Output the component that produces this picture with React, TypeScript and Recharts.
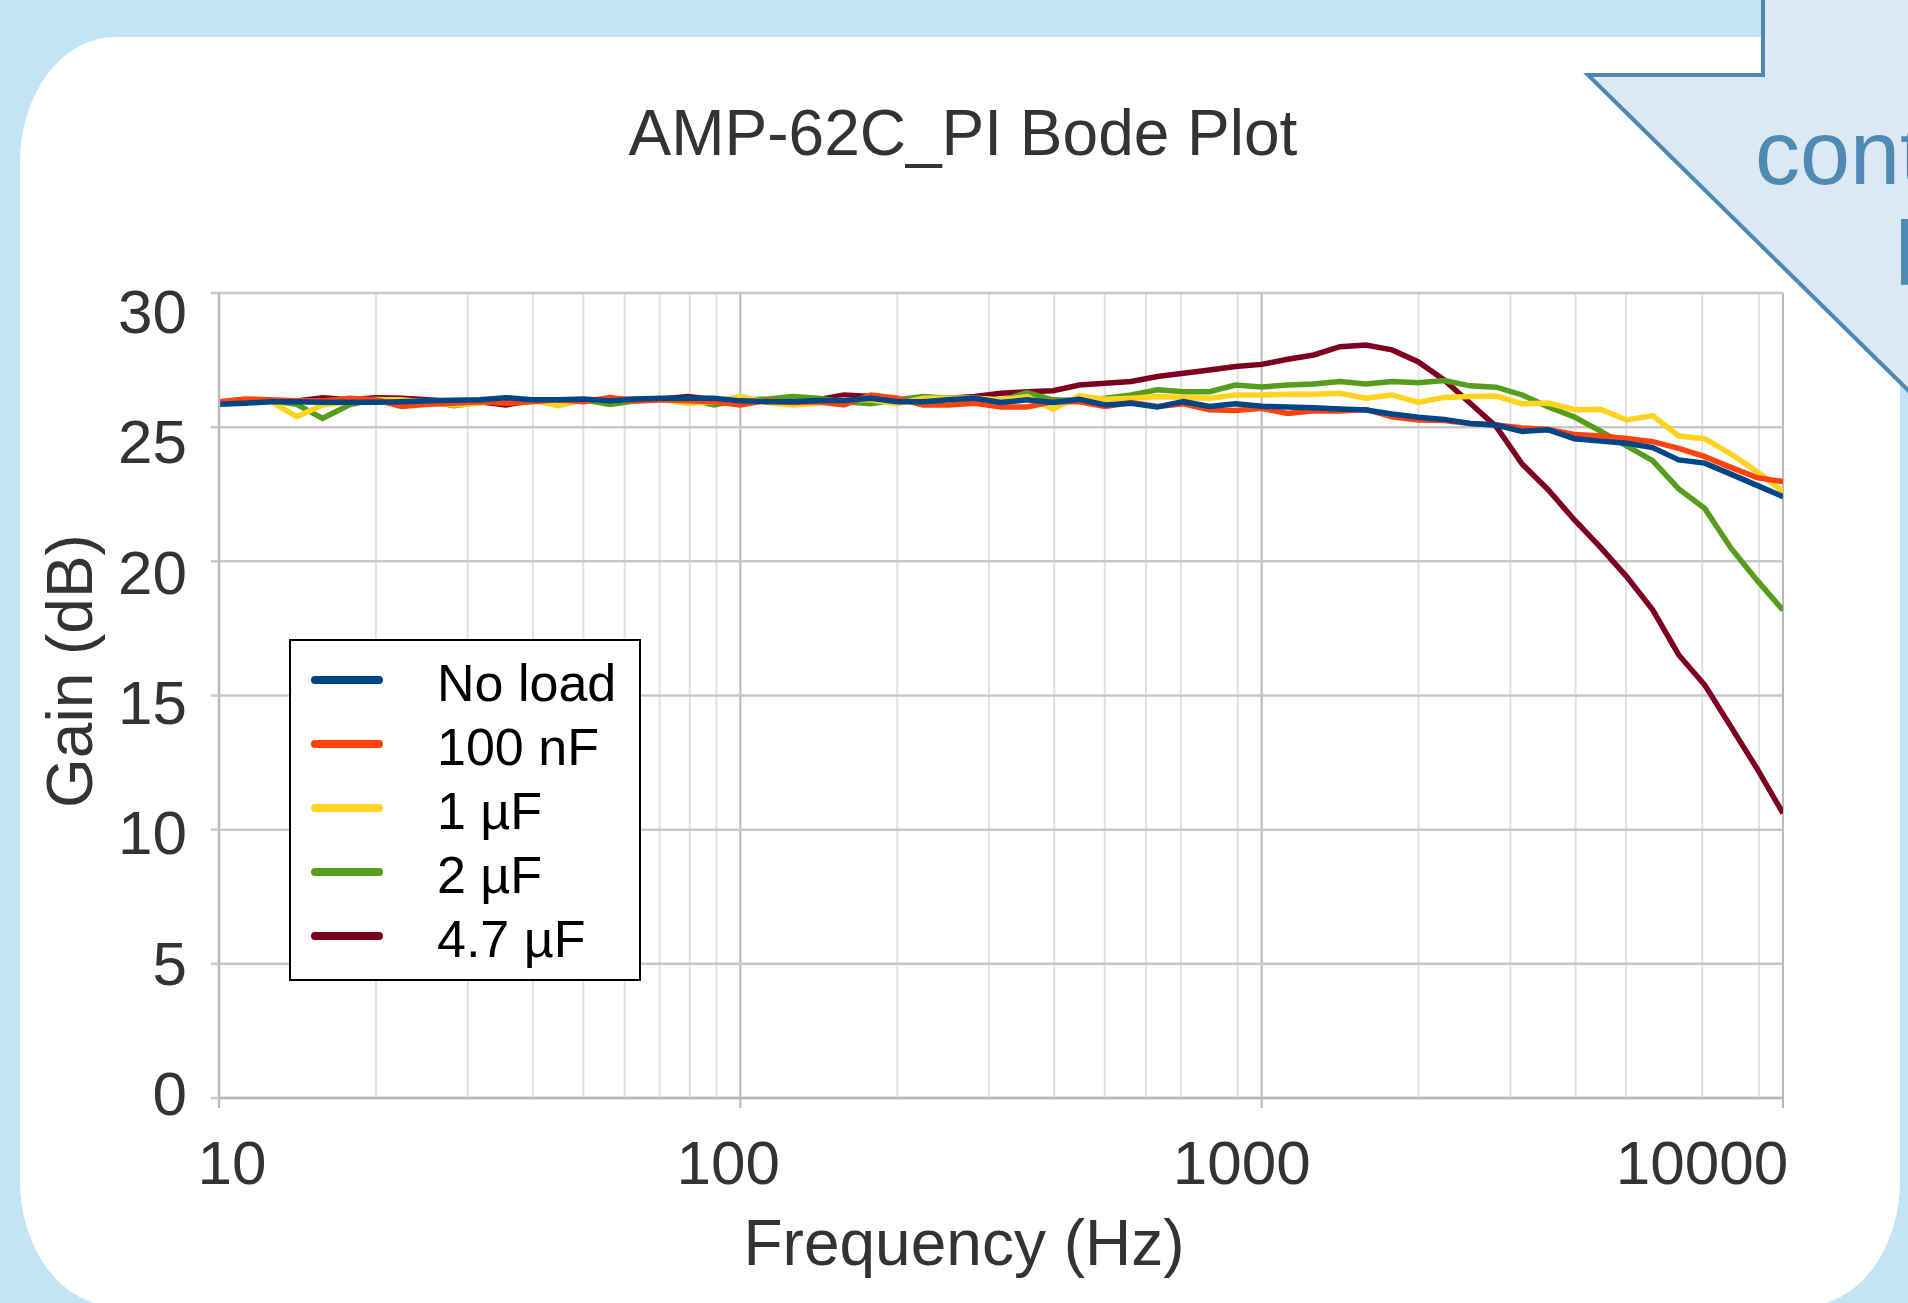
import React from 'react';
import { LineChart, Line, XAxis, YAxis, CartesianGrid, Legend, Label } from 'recharts';

// sweep frequencies (Hz), 20 points per decade
const FREQS = [
  10, 11.2, 12.6, 14.1, 15.8, 17.8, 20, 22.4, 25.1, 28.2, 31.6, 35.5, 39.8, 44.7, 50.1, 56.2, 63.1, 70.8, 79.4, 89.1,
  100, 112, 126, 141, 158, 178, 200, 224, 251, 282, 316, 355, 398, 447, 501, 562, 631, 708, 794, 891,
  1000, 1122, 1259, 1413, 1585, 1778, 1995, 2239, 2512, 2818, 3162, 3548, 3981, 4467, 5012, 5623, 6310, 7079, 7943, 8913,
  10000,
];

const NO_LOAD = [
  25.85, 25.89, 25.95, 25.95, 25.93, 25.93, 25.93, 25.95, 25.98, 26.0, 26.02, 26.1, 26.02, 26.02, 26.05, 25.98, 26.05, 26.08, 26.08, 26.08,
  25.98, 25.95, 25.95, 25.99, 25.99, 26.08, 25.95, 25.95, 26.02, 26.08, 25.92, 26.02, 25.92, 26.04, 25.83, 25.89, 25.75, 25.95, 25.77, 25.87,
  25.78, 25.75, 25.72, 25.68, 25.64, 25.49, 25.37, 25.29, 25.14, 25.08, 24.84, 24.9, 24.57, 24.48, 24.4, 24.24, 23.78, 23.66, 23.25, 22.83,
  22.41,
];

const NF_100 = [
  25.95, 26.05, 26.02, 25.98, 25.98, 26.08, 26.02, 25.77, 25.85, 25.89, 25.95, 25.89, 25.95, 26.02, 25.95, 26.1, 25.98, 26.02, 25.98, 25.95,
  25.83, 25.99, 25.92, 25.95, 25.83, 26.2, 26.08, 25.83, 25.83, 25.89, 25.75, 25.75, 25.95, 25.95, 25.77, 25.92, 25.77, 25.87, 25.65, 25.62,
  25.7, 25.51, 25.61, 25.6, 25.66, 25.39, 25.27, 25.25, 25.14, 25.08, 24.97, 24.91, 24.73, 24.67, 24.58, 24.46, 24.21, 23.9, 23.5, 23.12,
  22.97,
];

const UF_1 = [
  25.89, 25.95, 25.95, 25.39, 25.83, 25.95, 26.02, 26.02, 25.93, 25.83, 25.89, 26.02, 26.02, 25.8, 26.02, 25.98, 26.05, 26.02, 25.89, 25.95,
  26.14, 25.92, 25.83, 25.89, 26.02, 26.02, 25.87, 26.08, 26.08, 26.08, 26.02, 26.14, 25.67, 26.17, 26.04, 26.08, 26.14, 26.11, 26.08, 26.2,
  26.2, 26.23, 26.23, 26.26, 26.08, 26.2, 25.92, 26.11, 26.14, 26.16, 25.87, 25.9, 25.65, 25.67, 25.27, 25.43, 24.67, 24.57, 24.0, 23.35,
  22.6,
];

const UF_2 = [
  25.89, 25.95, 25.98, 25.85, 25.33, 25.83, 26.05, 25.98, 25.98, 25.8, 25.93, 25.95, 25.98, 25.89, 26.02, 25.85, 25.98, 26.02, 26.05, 25.83,
  26.02, 26.04, 26.14, 26.08, 25.95, 25.87, 26.02, 26.14, 26.08, 26.08, 25.99, 26.29, 26.02, 25.99, 26.08, 26.2, 26.39, 26.32, 26.32, 26.57,
  26.5, 26.57, 26.61, 26.7, 26.61, 26.7, 26.66, 26.74, 26.54, 26.49, 26.2, 25.75, 25.38, 24.85, 24.3, 23.75, 22.7, 21.97, 20.5, 19.3,
  18.18,
];

const UF_4_7 = [
  25.89, 25.95, 25.98, 25.98, 26.1, 26.02, 26.1, 26.08, 26.02, 25.95, 25.95, 25.83, 25.98, 26.02, 26.02, 26.02, 26.05, 26.05, 26.14, 26.02,
  25.98, 25.99, 26.11, 26.02, 26.2, 26.14, 26.02, 26.02, 26.08, 26.14, 26.26, 26.32, 26.36, 26.57, 26.64, 26.7, 26.89, 27.01, 27.13, 27.26,
  27.34, 27.53, 27.69, 28.0, 28.06, 27.88, 27.44, 26.76, 25.89, 25.02, 23.62, 22.66, 21.54, 20.52, 19.43, 18.19, 16.51, 15.39, 13.84, 12.28,
  10.61,
];

const SERIES = [
  { key: 'noLoad', name: 'No load', color: '#004586', values: NO_LOAD },
  { key: 'nf100', name: '100 nF', color: '#ff420e', values: NF_100 },
  { key: 'uf1', name: '1 µF', color: '#ffd320', values: UF_1 },
  { key: 'uf2', name: '2 µF', color: '#579d1c', values: UF_2 },
  { key: 'uf47', name: '4.7 µF', color: '#7e0021', values: UF_4_7 },
];

const X_TICKS = [10, 100, 1000, 10000];
const X_MINOR = [20, 30, 40, 50, 60, 70, 80, 90, 200, 300, 400, 500, 600, 700, 800, 900, 2000, 3000, 4000, 5000, 6000, 7000, 8000, 9000];
const Y_TICKS = [0, 5, 10, 15, 20, 25, 30];

const rows = FREQS.map((freq, i) => {
  const row: Record<string, number> = { freq };
  SERIES.forEach((s) => {
    row[s.key] = s.values[i];
  });
  return row;
});

const FONT = '"Liberation Sans", Arial, sans-serif';
const TEXT = '#333333';

// the tick labels in the source sit a little off their gridlines
const X_LABEL_SHIFT: Record<number, number> = { 10: 13, 100: -12, 1000: -20, 10000: -81 };

function XTick(props: any) {
  const { x, y, payload } = props;
  const v = payload.value;
  return (
    <text x={x + (X_LABEL_SHIFT[v] ?? 0)} y={y + 76} textAnchor="middle" fontSize={62} fill={TEXT} fontFamily={FONT}>
      {v}
    </text>
  );
}

function YTick(props: any) {
  const { x, y, payload } = props;
  const v = payload.value;
  const shift = 18 - (30 - v) * 0.76;
  return (
    <text x={x - 24} y={y + shift + 22} textAnchor="end" fontSize={62} fill={TEXT} fontFamily={FONT}>
      {v}
    </text>
  );
}

function YTitle(props: any) {
  const vb = props.viewBox;
  const cx = vb.x + 92;
  const cy = vb.y + vb.height / 2 - 24.5;
  return (
    <text
      x={0}
      y={0}
      transform={`translate(${cx}, ${cy}) rotate(-90)`}
      textAnchor="middle"
      fontSize={64}
      fill={TEXT}
      fontFamily={FONT}
    >
      Gain (dB)
    </text>
  );
}

function XTitle(props: any) {
  const vb = props.viewBox;
  return (
    <text x={vb.x + vb.width / 2 - 37} y={vb.y + 167} textAnchor="middle" fontSize={64} fill={TEXT} fontFamily={FONT}>
      Frequency (Hz)
    </text>
  );
}

function LegendBox(props: any) {
  const payload: any[] = props.payload || [];
  const items = SERIES.map((s) => {
    const p = payload.find((q) => q.value === s.name);
    return { name: s.name, color: p ? p.color : s.color };
  });
  return (
    <svg width={352} height={342} style={{ display: 'block' }}>
      <rect x={1} y={1} width={350} height={340} fill="#ffffff" stroke="#000000" strokeWidth={2} />
      {items.map((it, i) => {
        const cy = 41 + i * 64;
        return (
          <g key={it.name}>
            <line x1={26} x2={90} y1={cy} y2={cy} stroke={it.color} strokeWidth={8} strokeLinecap="round" />
            <text x={148} y={cy + 21} fontSize={52} fill="#000000" fontFamily={FONT}>
              {it.name}
            </text>
          </g>
        );
      })}
    </svg>
  );
}

export default function App() {
  return (
    <div
      style={{
        position: 'absolute',
        left: 0,
        top: 0,
        width: 1908,
        height: 1303,
        overflow: 'hidden',
        background: '#c2e4f4',
        fontFamily: FONT,
      }}
    >
      <div
        style={{
          position: 'absolute',
          left: 20,
          top: 37,
          width: 1880,
          height: 1269,
          background: '#ffffff',
          borderRadius: '95px / 125px',
        }}
      />
      <svg width={1908} height={1303} style={{ position: 'absolute', left: 0, top: 0 }}>
        <polygon
          points="1763,-5 1763,75 1588,75 1918,400 1918,-5"
          fill="#dce9f5"
          stroke="#4e88b2"
          strokeWidth={4}
        />
        <text x={1755} y={184} fontSize={90} fill="#4e8ab4" fontFamily={FONT}>
          cont
        </text>
        <text x={1895} y={285} fontSize={90} fill="#4e8ab4" fontFamily={FONT}>
          b
        </text>
        <text x={963} y={155} textAnchor="middle" fontSize={64} fill={TEXT} fontFamily={FONT}>
          AMP-62C_PI Bode Plot
        </text>
      </svg>
      <div style={{ position: 'absolute', left: 0, top: 0 }}>
        <LineChart width={1908} height={1303} data={rows} margin={{ top: 293, right: 125, bottom: 0, left: 0 }}>
          <CartesianGrid horizontal={false} verticalValues={X_MINOR} stroke="#e0e0e0" strokeWidth={2} />
          <CartesianGrid horizontal={false} verticalValues={X_TICKS} stroke="#b8b8b8" strokeWidth={2} />
          <CartesianGrid vertical={false} stroke="#c8c8c8" strokeWidth={2.5} />
          <XAxis
            dataKey="freq"
            type="number"
            scale="log"
            domain={[10, 10000]}
            ticks={X_TICKS}
            height={205}
            tickSize={10}
            tickMargin={0}
            tick={<XTick />}
            axisLine={{ stroke: '#b8b8b8', strokeWidth: 2.5 }}
            tickLine={{ stroke: '#b8b8b8', strokeWidth: 2 }}
            allowDataOverflow
          >
            <Label content={XTitle} />
          </XAxis>
          <YAxis
            type="number"
            domain={[0, 30]}
            ticks={Y_TICKS}
            width={219}
            tickSize={8}
            tickMargin={0}
            tick={<YTick />}
            axisLine={{ stroke: '#b8b8b8', strokeWidth: 2.5 }}
            tickLine={{ stroke: '#c8c8c8', strokeWidth: 2.5 }}
          >
            <Label content={YTitle} />
          </YAxis>
          <Legend
            layout="horizontal"
            verticalAlign="middle"
            align="center"
            content={<LegendBox />}
            wrapperStyle={{ left: 289, top: 639, width: 352, height: 342 }}
          />
          {[...SERIES].reverse().map((s) => (
            <Line
              key={s.key}
              type="linear"
              dataKey={s.key}
              name={s.name}
              stroke={s.color}
              strokeWidth={5.5}
              dot={false}
              activeDot={false}
              isAnimationActive={false}
            />
          ))}
        </LineChart>
      </div>
    </div>
  );
}
